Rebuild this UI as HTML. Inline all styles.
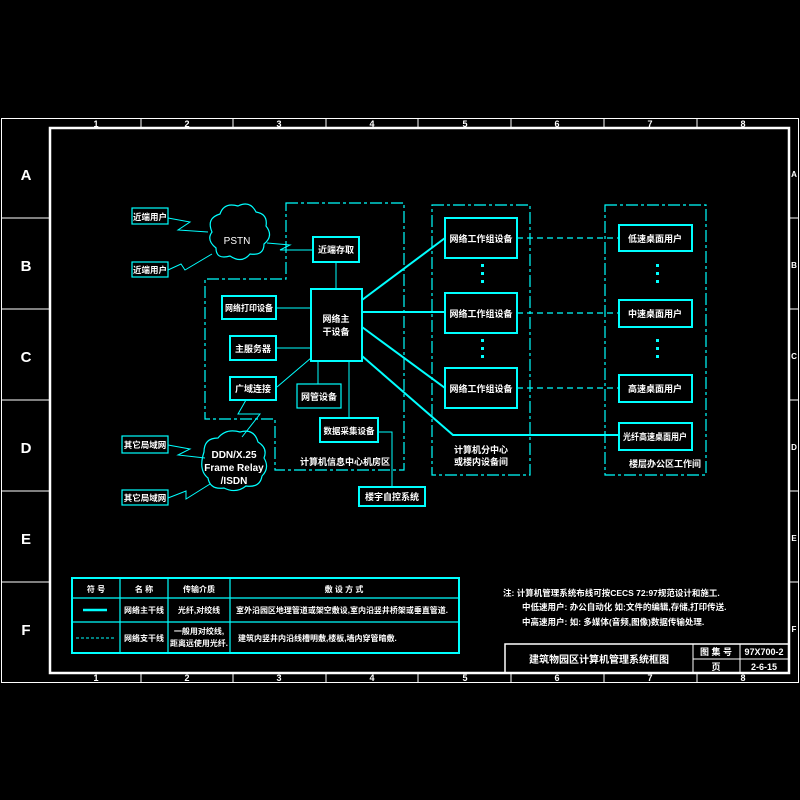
<!DOCTYPE html>
<html><head><meta charset="utf-8"><style>
html,body{margin:0;padding:0;background:#000;}
svg{display:block}
text{font-family:"Liberation Sans","Noto Sans CJK SC",sans-serif;fill:#fff;font-weight:bold}
.c{fill:none;stroke:#00ffff}
</style></head><body>
<svg width="800" height="800" viewBox="0 0 800 800">
<rect width="800" height="800" fill="#000"/>
<g stroke="#fff" fill="none">
<rect x="1.5" y="118.5" width="797" height="564" stroke-width="1"/>
<rect x="50" y="128" width="739" height="545" stroke-width="2.5"/>
<path d="M141 118V128M233 118V128M326 118V128M418 118V128M511 118V128M604 118V128M697 118V128
M141 673V682M233 673V682M326 673V682M418 673V682M511 673V682M604 673V682M697 673V682
M1 218H50M1 309H50M1 400H50M1 491H50M1 582H50
M789 218H799M789 309H799M789 400H799M789 491H799M789 582H799"/>
</g>
<g font-size="9" text-anchor="middle" style="font-weight:normal">
<text x="96" y="127">1</text><text x="187" y="127">2</text><text x="279" y="127">3</text><text x="372" y="127">4</text><text x="465" y="127">5</text><text x="557" y="127">6</text><text x="650" y="127">7</text><text x="743" y="127">8</text>
<text x="96" y="681">1</text><text x="187" y="681">2</text><text x="279" y="681">3</text><text x="372" y="681">4</text><text x="465" y="681">5</text><text x="557" y="681">6</text><text x="650" y="681">7</text><text x="743" y="681">8</text>
</g>
<g font-size="15" text-anchor="middle" style="font-weight:normal">
<text x="26" y="180">A</text><text x="26" y="271">B</text><text x="26" y="362">C</text><text x="26" y="453">D</text><text x="26" y="544">E</text><text x="26" y="635">F</text>
</g>
<g font-size="8" text-anchor="middle" style="font-weight:normal">
<text x="794" y="177">A</text><text x="794" y="268">B</text><text x="794" y="359">C</text><text x="794" y="450">D</text><text x="794" y="541">E</text><text x="794" y="632">F</text>
</g>

<g class="c" stroke-width="1.2" stroke-dasharray="12,3,3,3">
<path d="M286 203H404V470H275V419H205V279H286Z"/>
<rect x="432" y="205" width="98" height="270"/>
<rect x="605" y="205" width="101" height="270"/>
</g>

<g class="c" stroke-width="1.2">
<path d="M212 232 q-6 -14 8 -18 q4 -12 18 -8 q12 -6 18 6 q12 2 10 14 q8 10 -2 18 q0 12 -14 10 q-8 10 -20 2 q-14 4 -14 -8 q-10 -8 -4 -16z"/>
<path d="M204 452 q0 -14 14 -14 q8 -10 22 -6 q14 -4 18 10 q10 6 6 16 q6 10 -2 18 q-2 12 -16 10 q-10 8 -22 2 q-14 2 -16 -10 q-10 -8 -4 -26z"/>
</g>
<text x="237" y="244" font-size="10" text-anchor="middle" style="font-weight:normal">PSTN</text>
<g font-size="10" text-anchor="middle" style="font-weight:normal">
<text x="234" y="458">DDN/X.25</text><text x="234" y="471">Frame Relay</text><text x="234" y="484">/ISDN</text>
</g>

<g class="c" stroke-width="1">
<path d="M168 218L190 222L178 230L208 232"/>
<path d="M168 270L181 264L185 270L212 254"/>
<path d="M267 243L290 245L280 250L313 250"/>
<path d="M168 445L190 449L178 455L205 458"/>
<path d="M168 498L186 491L186 499L210 484"/>
<path d="M246 400L238 414L260 414L242 437"/>
<path d="M336 262V289M276 308H311M276 348H311M277 387L311 358M318 361V384M349 361V418M378 432H392V487"/>
</g>
<g class="c" stroke-width="2">
<path d="M362 300L445 238M362 312H445M362 327L445 388M362 356L453 435H619"/>
</g>
<g class="c" stroke-width="1.2" stroke-dasharray="6,4">
<path d="M517 238H619M517 313H619M517 388H619"/>
</g>
<g fill="#00ffff">
<rect x="481" y="264" width="3" height="3"/><rect x="481" y="272" width="3" height="3"/><rect x="481" y="280" width="3" height="3"/>
<rect x="481" y="339" width="3" height="3"/><rect x="481" y="347" width="3" height="3"/><rect x="481" y="355" width="3" height="3"/>
<rect x="656" y="264" width="3" height="3"/><rect x="656" y="272" width="3" height="3"/><rect x="656" y="280" width="3" height="3"/>
<rect x="656" y="339" width="3" height="3"/><rect x="656" y="347" width="3" height="3"/><rect x="656" y="355" width="3" height="3"/>
</g>

<g class="c" stroke-width="1.2">
<rect x="132" y="208" width="36" height="16"/>
<rect x="132" y="262" width="36" height="15"/>
<rect x="122" y="436" width="46" height="17"/>
<rect x="122" y="490" width="46" height="15"/>
<rect x="297" y="384" width="44" height="24"/>
</g>
<g class="c" stroke-width="2">
<rect x="313" y="237" width="46" height="25"/>
<rect x="311" y="289" width="51" height="72"/>
<rect x="222" y="296" width="54" height="23"/>
<rect x="230" y="336" width="46" height="24"/>
<rect x="230" y="377" width="46" height="23"/>
<rect x="320" y="418" width="58" height="24"/>
<rect x="359" y="487" width="66" height="19"/>
<rect x="445" y="218" width="72" height="40"/>
<rect x="445" y="293" width="72" height="40"/>
<rect x="445" y="368" width="72" height="40"/>
<rect x="619" y="225" width="73" height="26"/>
<rect x="619" y="300" width="73" height="27"/>
<rect x="619" y="375" width="73" height="27"/>
<rect x="619" y="423" width="73" height="27"/>
</g>
<g font-size="9" text-anchor="middle">
<text x="150" y="220" font-size="8.5">近端用户</text>
<text x="150" y="273" font-size="8.5">近端用户</text>
<text x="145" y="448" font-size="8.5">其它局域网</text>
<text x="145" y="501" font-size="8.5">其它局域网</text>
<text x="336" y="253">近端存取</text>
<text x="336" y="322">网络主</text><text x="336" y="335">干设备</text>
<text x="249" y="311" font-size="8.5" textLength="48" lengthAdjust="spacingAndGlyphs">网络打印设备</text>
<text x="253" y="352">主服务器</text>
<text x="253" y="392">广域连接</text>
<text x="319" y="400">网管设备</text>
<text x="349" y="434" font-size="8.5">数据采集设备</text>
<text x="392" y="500">楼宇自控系统</text>
<text x="345" y="465">计算机信息中心机房区</text>
<text x="481" y="242">网络工作组设备</text>
<text x="481" y="317">网络工作组设备</text>
<text x="481" y="392">网络工作组设备</text>
<text x="655" y="242">低速桌面用户</text>
<text x="655" y="317">中速桌面用户</text>
<text x="655" y="392">高速桌面用户</text>
<text x="655" y="440" textLength="64" lengthAdjust="spacingAndGlyphs">光纤高速桌面用户</text>
<text x="481" y="453">计算机分中心</text>
<text x="481" y="465">或楼内设备间</text>
<text x="665" y="467">楼层办公区工作间</text>
</g>

<g class="c" stroke-width="2">
<rect x="72" y="578" width="387" height="75"/>
<path d="M72 598H459M72 622H459M120 578V653M168 578V653M230 578V653" stroke-width="1.2"/>
</g>
<path d="M83 610H107" stroke="#00ffff" stroke-width="2.5"/>
<path d="M76 638H115" stroke="#00ffff" stroke-width="1" stroke-dasharray="3,2"/>
<g font-size="8" text-anchor="middle">
<text x="96" y="592">符 号</text><text x="144" y="592">名 称</text><text x="199" y="592">传输介质</text><text x="344" y="592">敷 设 方 式</text>
<text x="144" y="613">网络主干线</text><text x="199" y="613">光纤,对绞线</text>
<text x="144" y="641">网络支干线</text><text x="199" y="634">一般用对绞线,</text><text x="199" y="646" textLength="58" lengthAdjust="spacingAndGlyphs">距离远使用光纤.</text>
</g>
<g font-size="8">
<text x="236" y="613" textLength="212" lengthAdjust="spacingAndGlyphs">室外沿园区地理管道或架空敷设,室内沿竖井桥架或垂直管道.</text>
<text x="238" y="641">建筑内竖井内沿线槽明敷,楼板,墙内穿管暗敷.</text>
</g>

<g font-size="8.5">
<text x="503" y="596">注:  计算机管理系统布线可按CECS 72:97规范设计和施工.</text>
<text x="522" y="610">中低速用户:  办公自动化  如:文件的编辑,存储,打印传送.</text>
<text x="522" y="625">中高速用户:  如:  多媒体(音频,图像)数据传输处理.</text>
</g>

<g stroke="#fff" fill="none" stroke-width="1.5">
<rect x="505" y="644" width="284" height="29"/>
<path d="M693 644V673M740 644V673M693 659H789" stroke-width="1"/>
</g>
<text x="599" y="663" font-size="10" text-anchor="middle">建筑物园区计算机管理系统框图</text>
<g font-size="9" text-anchor="middle" style="font-weight:normal">
<text x="716" y="655">图 集 号</text><text x="764" y="655">97X700-2</text>
<text x="716" y="670">页</text><text x="764" y="670">2-6-15</text>
</g>
</svg>
</body></html>
